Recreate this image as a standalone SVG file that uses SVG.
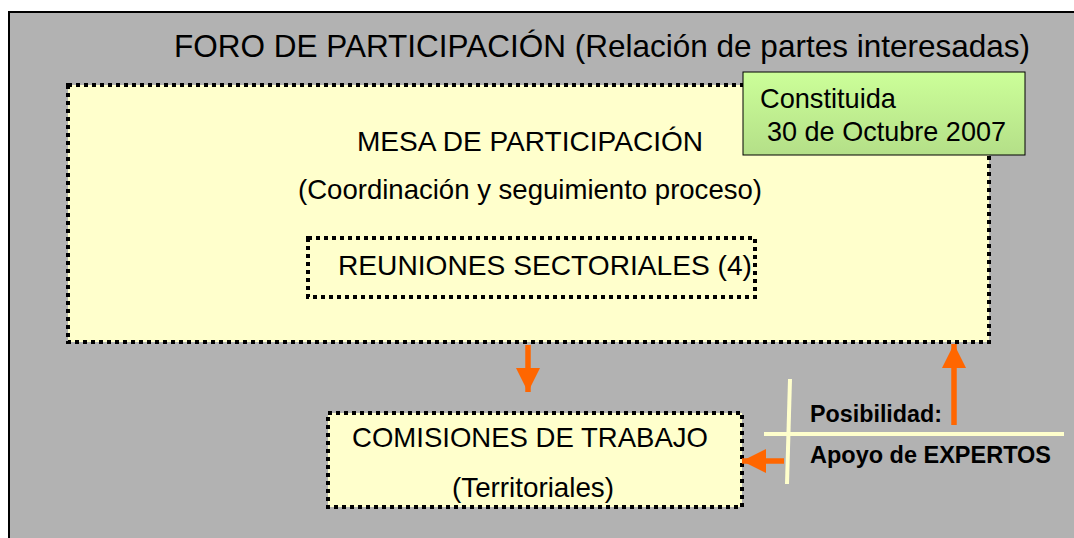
<svg xmlns="http://www.w3.org/2000/svg" width="1074" height="538" viewBox="0 0 1074 538">
<defs>
<linearGradient id="g" x1="0" y1="0" x2="0" y2="1">
<stop offset="0" stop-color="#ccff99"/>
<stop offset="1" stop-color="#b4df88"/>
</linearGradient>
<marker id="ah" viewBox="0 0 10 10" refX="10" refY="5" markerWidth="4.4" markerHeight="4.4" orient="auto" markerUnits="strokeWidth">
<path d="M0,0 L10,5 L0,10 Z" fill="#ff6600"/>
</marker>
<style>
.t{font-family:"Liberation Sans",Arial,sans-serif;fill:#000;font-size:28.5px;}
.b{font-weight:bold;font-size:23.5px;}
.dot{fill:#ffffcc;stroke:#000;stroke-width:4;stroke-dasharray:4 4;}
.arr{stroke:#ff6600;stroke-width:5.5;fill:none;marker-end:url(#ah);}
.ln{stroke:#ffffcc;stroke-width:4;}
</style>
</defs>
<rect x="0" y="0" width="1074" height="538" fill="#fff"/>
<g id="foro">
<rect x="9" y="12" width="1080" height="540" fill="#b2b2b2" stroke="#000" stroke-width="2"/>
<text class="t" x="174" y="57" style="font-size:32px" textLength="856" lengthAdjust="spacingAndGlyphs">FORO DE PARTICIPACIÓN (Relación de partes interesadas)</text>
</g>
<g id="mesa">
<rect class="dot" x="68" y="85" width="921" height="257"/>
<text class="t" x="357" y="151" textLength="346" lengthAdjust="spacingAndGlyphs">MESA DE PARTICIPACIÓN</text>
<text class="t" x="298" y="199" textLength="464" lengthAdjust="spacingAndGlyphs">(Coordinación y seguimiento proceso)</text>
</g>
<g id="reuniones">
<rect class="dot" x="308" y="238" width="447" height="59"/>
<text class="t" x="338" y="275" textLength="414" lengthAdjust="spacingAndGlyphs">REUNIONES SECTORIALES (4)</text>
</g>
<g id="constituida">
<rect x="743" y="72" width="282" height="83" fill="url(#g)" stroke="#000" stroke-width="1"/>
<text class="t" x="760" y="108" textLength="136" lengthAdjust="spacingAndGlyphs">Constituida</text>
<text class="t" x="767" y="141" textLength="239" lengthAdjust="spacingAndGlyphs">30 de Octubre 2007</text>
</g>
<g id="comisiones">
<rect class="dot" x="328" y="413" width="414" height="94"/>
<text class="t" x="352" y="447" textLength="356" lengthAdjust="spacingAndGlyphs">COMISIONES DE TRABAJO</text>
<text class="t" x="452" y="497" textLength="162" lengthAdjust="spacingAndGlyphs">(Territoriales)</text>
</g>
<g id="expertos">
<line class="ln" x1="790" y1="379" x2="787" y2="484"/>
<line class="ln" x1="764" y1="434" x2="1064" y2="434"/>
<text class="t b" x="810" y="422" textLength="132" lengthAdjust="spacingAndGlyphs">Posibilidad:</text>
<text class="t b" x="810" y="463" textLength="241" lengthAdjust="spacingAndGlyphs">Apoyo de EXPERTOS</text>
</g>
<g id="connectors">
<line class="arr" x1="528" y1="345" x2="528" y2="392"/>
<line class="arr" x1="954" y1="425" x2="954" y2="344"/>
<line class="arr" x1="784" y1="461" x2="742" y2="461"/>
</g>
</svg>
